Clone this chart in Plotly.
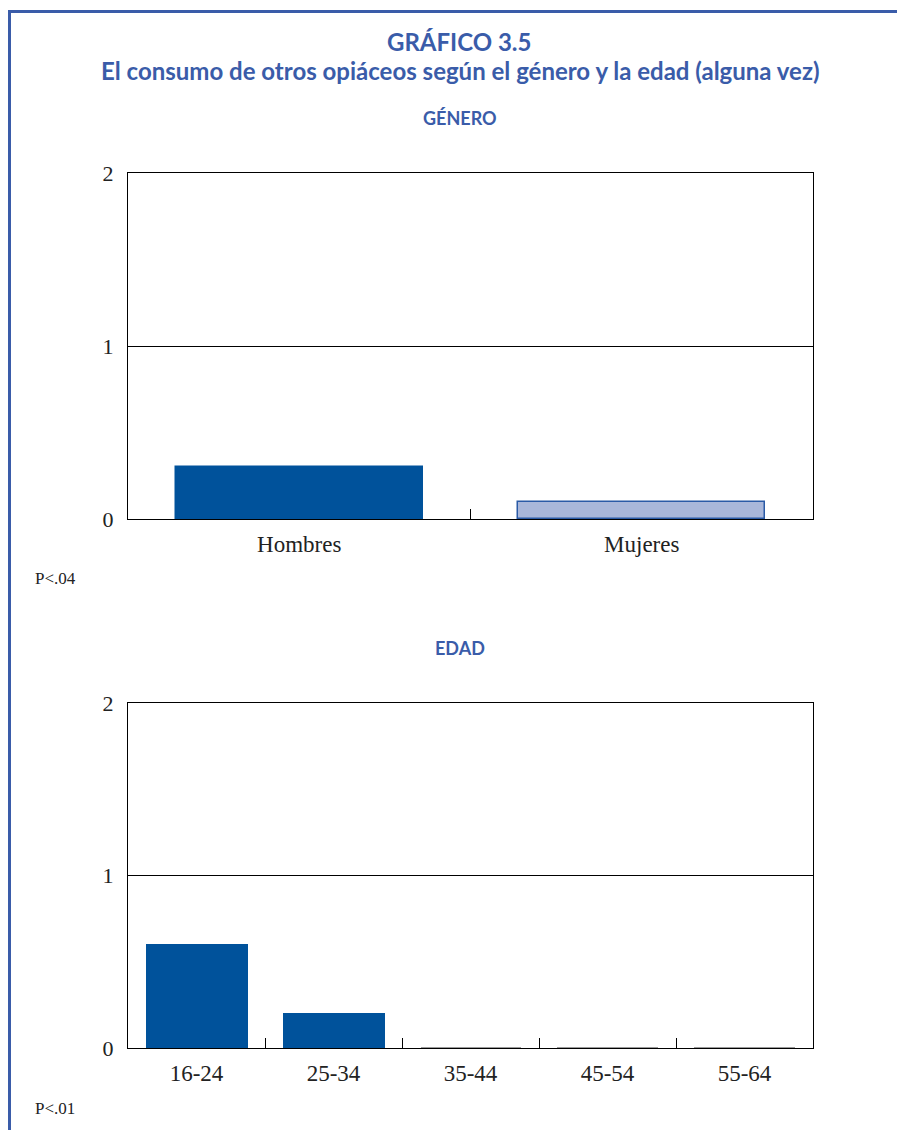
import plotly.graph_objects as go

# ---- data ----
genero_cats = ["Hombres", "Mujeres"]
genero_vals = [0.3, 0.1]
edad_cats = ["16-24", "25-34", "35-44", "45-54", "55-64"]
edad_vals = [0.6, 0.2, 0.0, 0.0, 0.0]
y_ticks = [0, 1, 2]

# page body has an 8px margin; figure is sized to fit the window exactly
OFF = 8
W, H = 905 - 2 * OFF, 1138 - 2 * OFF
BLUE = "#3a5ca9"
DARK = "#00529b"
LIGHT = "#a9b7da"


def px_x(x):
    return (x - OFF) / W


def px_y(y):
    return 1 - (y - OFF) / H


fig = go.Figure()

fig.add_trace(go.Bar(
    x=genero_cats, y=genero_vals, xaxis="x", yaxis="y",
    marker=dict(color=[DARK, LIGHT], line=dict(color=[DARK, "#2a5aa6"], width=1.5)),
    width=0.72, showlegend=False, hoverinfo="x+y",
))
fig.add_trace(go.Bar(
    x=edad_cats, y=edad_vals, xaxis="x2", yaxis="y2",
    marker=dict(color=DARK,
                line=dict(color=[DARK if v > 0 else "#9a9a9a" for v in edad_vals], width=2)),
    width=0.73, showlegend=False, hoverinfo="x+y",
))

serif = "Liberation Serif, Times New Roman, serif"
xax_common = dict(
    showline=True, linecolor="black", linewidth=1.2, mirror=True,
    ticks="inside", tickson="boundaries", ticklen=10, tickcolor="black", tickwidth=1.2,
    tickfont=dict(family=serif, size=23, color="#222"),
    showgrid=False, fixedrange=True, ticklabelstandoff=4, automargin=False,
)
yax_common = dict(
    range=[0, 2], tickvals=y_ticks, showline=True, linecolor="black", linewidth=1.2,
    mirror=True, ticks="", showgrid=True, gridcolor="black", gridwidth=1.2,
    tickfont=dict(family=serif, size=22, color="#222"), zeroline=False,
    fixedrange=True, ticklabelstandoff=9, automargin=False,
)

x_dom = [px_x(128), px_x(813)]
fig.update_layout(
    width=W, height=H,
    margin=dict(l=0, r=0, t=0, b=0, pad=0, autoexpand=False),
    paper_bgcolor="white", plot_bgcolor="white",
    bargap=0,
    xaxis=dict(domain=x_dom, anchor="y", **xax_common),
    yaxis=dict(domain=[px_y(519), px_y(173)], anchor="x", **yax_common),
    xaxis2=dict(domain=x_dom, anchor="y2", **xax_common),
    yaxis2=dict(domain=[px_y(1048), px_y(703)], anchor="x2", **yax_common),
)

sans = "Lato, Open Sans, sans-serif"
annots = [
    ("<b>GRÁFICO 3.5</b>", 459, 42, 24, sans, BLUE, "center"),
    ("<b>El consumo de otros opiáceos según el género y la edad (alguna vez)</b>", 460, 70, 24, sans, BLUE, "center"),
    ("<b>GÉNERO</b>", 460, 118, 18, sans, BLUE, "center"),
    ("<b>EDAD</b>", 460, 648, 18, sans, BLUE, "center"),
    ("P<.04", 33, 578, 17, serif, "#222", "left"),
    ("P<.01", 33, 1108, 17, serif, "#222", "left"),
]
for text, x, y, size, fam, col, align in annots:
    fig.add_annotation(
        text=text, x=px_x(x), y=px_y(y), xref="paper", yref="paper",
        xanchor=align, yanchor="middle", showarrow=False,
        font=dict(family=fam, size=size, color=col),
    )

# decorative frame (blue border, top and left)
fig.add_shape(type="line", xref="paper", yref="paper",
              x0=px_x(9.5), y0=0, x1=px_x(9.5), y1=px_y(11.5),
              line=dict(color=BLUE, width=3))
fig.add_shape(type="line", xref="paper", yref="paper",
              x0=px_x(8), y0=px_y(11.5), x1=1, y1=px_y(11.5),
              line=dict(color=BLUE, width=3))

fig.write_html("out.html")
